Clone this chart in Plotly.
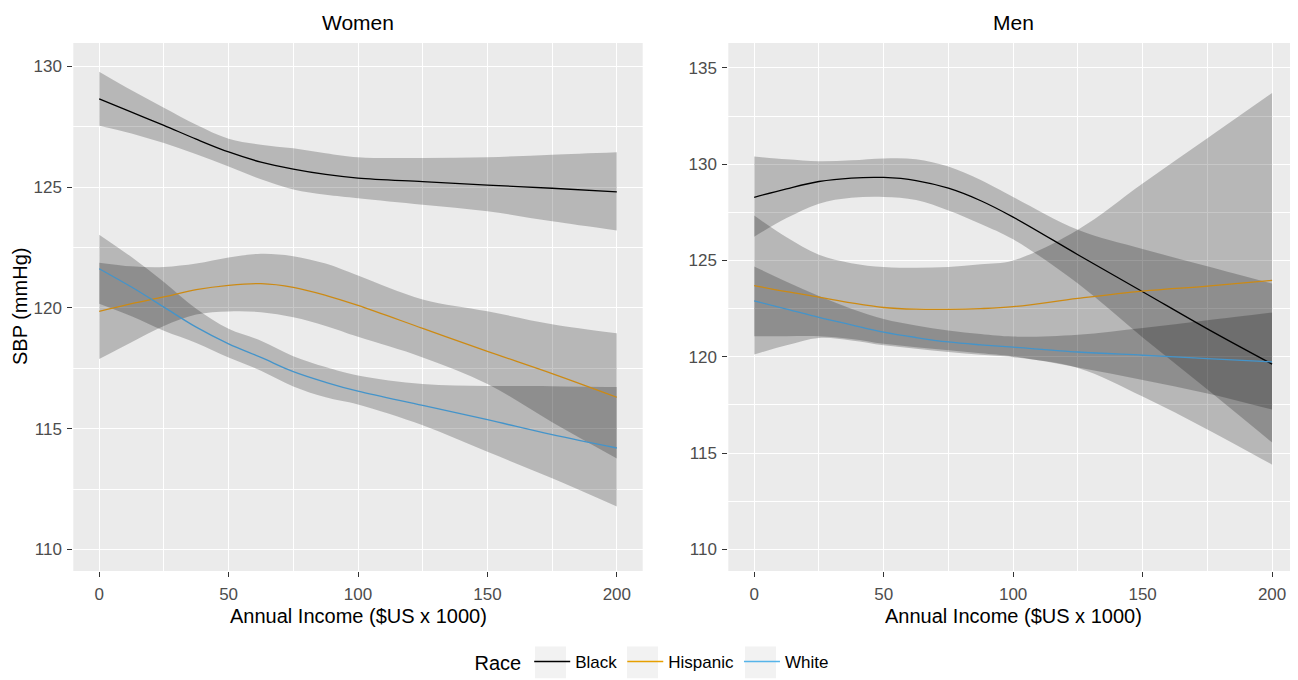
import plotly.graph_objects as go

# ---------------- data ----------------
income = [0, 12.5, 25, 37.5, 50, 62.5, 75, 87.5, 100, 125, 150, 175, 200]
races = ["Black", "Hispanic", "White"]
legend_colors = ["#000000", "#E69F00", "#56B4E9"]
line_colors = ["#000000", "#CC8A14", "#4494CA"]
panels = ["Women", "Men"]
x_ticks = [0, 50, 100, 150, 200]
women_y_ticks = [110, 115, 120, 125, 130]
men_y_ticks = [110, 115, 120, 125, 130, 135]

# Women
women_black_fit = [128.65, 128.10, 127.55, 126.98, 126.45, 126.03, 125.74, 125.52, 125.37, 125.22, 125.08, 124.95, 124.80]
women_black_hi = [129.77, 129.00, 128.28, 127.58, 127.00, 126.75, 126.60, 126.40, 126.23, 126.20, 126.23, 126.34, 126.44]
women_black_lo = [127.54, 127.22, 126.82, 126.36, 125.85, 125.32, 124.90, 124.68, 124.54, 124.27, 124.00, 123.58, 123.20]

women_hisp_fit = [119.85, 120.17, 120.45, 120.75, 120.93, 121.00, 120.85, 120.52, 120.10, 119.15, 118.20, 117.28, 116.30]
women_hisp_hi = [121.87, 121.72, 121.69, 121.83, 122.08, 122.24, 122.14, 121.83, 121.34, 120.35, 119.86, 119.32, 118.95]
women_hisp_lo = [117.88, 118.58, 119.25, 119.72, 119.85, 119.82, 119.61, 119.25, 118.80, 117.95, 116.85, 115.27, 113.77]

women_white_fit = [121.62, 120.86, 120.03, 119.20, 118.51, 117.95, 117.36, 116.92, 116.55, 115.96, 115.37, 114.75, 114.20]
women_white_hi = [123.03, 122.10, 121.07, 119.96, 119.13, 118.64, 118.00, 117.55, 117.20, 116.85, 116.77, 116.76, 116.72]
women_white_lo = [120.17, 119.65, 119.05, 118.55, 117.95, 117.40, 116.75, 116.30, 116.00, 115.14, 114.04, 112.95, 111.78]

# Men
men_black_fit = [128.28, 128.72, 129.10, 129.28, 129.31, 129.15, 128.75, 128.10, 127.25, 125.30, 123.38, 121.45, 119.62]
men_black_hi = [130.40, 130.25, 130.15, 130.20, 130.30, 130.26, 129.88, 129.18, 128.30, 126.60, 125.60, 124.70, 123.80]
men_black_lo = [126.23, 127.20, 127.95, 128.25, 128.30, 128.14, 127.60, 126.90, 126.10, 123.80, 121.00, 118.30, 115.55]

men_hisp_fit = [123.70, 123.38, 123.10, 122.80, 122.56, 122.47, 122.46, 122.50, 122.60, 123.03, 123.41, 123.67, 123.97]
men_hisp_hi = [127.33, 126.20, 125.30, 124.86, 124.66, 124.62, 124.66, 124.80, 125.00, 126.60, 129.00, 131.35, 133.70]
men_hisp_lo = [120.12, 120.60, 120.98, 120.85, 120.60, 120.42, 120.25, 120.10, 119.98, 119.42, 117.94, 116.23, 114.40]

men_white_fit = [122.90, 122.48, 122.05, 121.66, 121.28, 121.00, 120.77, 120.62, 120.50, 120.25, 120.08, 119.91, 119.74]
men_white_hi = [124.69, 123.90, 123.16, 122.50, 121.96, 121.62, 121.36, 121.18, 121.05, 121.15, 121.50, 121.90, 122.30]
men_white_lo = [121.07, 121.07, 121.07, 120.93, 120.68, 120.50, 120.34, 120.18, 120.02, 119.45, 118.80, 118.10, 117.26]

women = [(women_black_fit, women_black_lo, women_black_hi),
         (women_hisp_fit, women_hisp_lo, women_hisp_hi),
         (women_white_fit, women_white_lo, women_white_hi)]
men = [(men_black_fit, men_black_lo, men_black_hi),
       (men_hisp_fit, men_hisp_lo, men_hisp_hi),
       (men_white_fit, men_white_lo, men_white_hi)]

# ---------------- figure ----------------
FONT = "Liberation Sans, Arial, sans-serif"
RIBBON = "rgba(0,0,0,0.22)"

fig = go.Figure()

for p, (panel_data, xa, ya) in enumerate([(women, "x", "y"), (men, "x2", "y2")]):
    for (fit, lo, hi) in panel_data:
        fig.add_trace(go.Scatter(x=income, y=lo, mode="lines", xaxis=xa, yaxis=ya,
                                 line=dict(width=0, shape="spline"), showlegend=False,
                                 hoverinfo="skip"))
        fig.add_trace(go.Scatter(x=income, y=hi, mode="lines", xaxis=xa, yaxis=ya,
                                 line=dict(width=0, shape="spline"), fill="tonexty",
                                 fillcolor=RIBBON, showlegend=False, hoverinfo="skip"))
    for i, (fit, lo, hi) in enumerate(panel_data):
        fig.add_trace(go.Scatter(x=income, y=fit, mode="lines", xaxis=xa, yaxis=ya,
                                 name=races[i], legendgroup=races[i], showlegend=False,
                                 line=dict(color=line_colors[i], width=1.3, shape="spline")))

# legend entries (legend-only keys in the legend colours)
for i, r in enumerate(races):
    fig.add_trace(go.Scatter(x=[None], y=[None], mode="lines", name=r, legendgroup=r,
                             xaxis="x", yaxis="y", showlegend=True,
                             line=dict(color=legend_colors[i], width=1.5)))

# The page body has an 8px default margin, so the figure is 8px smaller and
# all reference pixel positions are shifted by that offset.
OFF = 8
W, H = 1298 - OFF, 680 - OFF
top, bottom = 43.3 - OFF, 573.3 - OFF
plot_h = bottom - top


def xp(px):
    return (px - OFF) / W


def yp(py):
    return (bottom - (py - OFF)) / plot_h


left_dom = [xp(73.3), xp(642.7)]
right_dom = [xp(728.3), 1.0]

axis_common = dict(
    showgrid=True, gridcolor="white", gridwidth=1.1,
    zeroline=False, showline=False,
    ticks="outside", ticklen=5, tickwidth=1.1, tickcolor="#333333",
    tickfont=dict(family=FONT, size=17, color="#4D4D4D"),
    automargin=False,
)
xminor = dict(dtick=25, tick0=0, showgrid=True, gridcolor="white", gridwidth=0.5)
yminor = dict(dtick=2.5, tick0=110, showgrid=True, gridcolor="white", gridwidth=0.5)

fig.update_layout(
    width=W, height=H,
    margin=dict(l=0, r=0, t=top, b=H - bottom, pad=0),
    paper_bgcolor="white", plot_bgcolor="#EBEBEB",
    font=dict(family=FONT, color="#000000"),
    xaxis=dict(domain=left_dom, range=[-10, 210], tickvals=x_ticks, minor=xminor,
               anchor="y", ticklabelstandoff=3, **axis_common),
    yaxis=dict(domain=[0, 1], range=[109.11, 130.96], tickvals=women_y_ticks, minor=yminor,
               anchor="x", ticklabelstandoff=2, **axis_common),
    xaxis2=dict(domain=right_dom, range=[-10, 210], tickvals=x_ticks, minor=xminor,
                anchor="y2", ticklabelstandoff=3, **axis_common),
    yaxis2=dict(domain=[0, 1], range=[108.88, 136.29], tickvals=men_y_ticks, minor=yminor,
                anchor="x2", ticklabelstandoff=2, **axis_common),
    legend=dict(orientation="h", x=0.5, xanchor="center",
                y=yp(665), yanchor="middle",
                title=dict(text="Race", font=dict(family=FONT, size=20, color="#000000")),
                font=dict(family=FONT, size=17, color="#000000"),
                bgcolor="rgba(0,0,0,0)", itemwidth=36),
    showlegend=True,
)

annotations = []
for name, dom in zip(panels, [left_dom, right_dom]):
    cx = (dom[0] + dom[1]) / 2
    annotations.append(dict(text=name, x=cx, y=yp(22.5), xref="paper", yref="paper",
                            xanchor="center", yanchor="middle", showarrow=False,
                            font=dict(family=FONT, size=21, color="#000000")))
    annotations.append(dict(text="Annual Income ($US x 1000)", x=cx, y=yp(618.5),
                            xref="paper", yref="paper", xanchor="center", yanchor="middle",
                            showarrow=False, font=dict(family=FONT, size=20, color="#000000")))
annotations.append(dict(text="SBP (mmHg)", x=xp(20), y=0.5, xref="paper", yref="paper",
                        xanchor="center", yanchor="middle", textangle=-90, showarrow=False,
                        font=dict(family=FONT, size=20, color="#000000")))
fig.update_layout(annotations=annotations)

# grey legend-key backgrounds (ggplot style)
shapes = []
for x0, x1 in [(535, 566), (627, 658), (745, 776)]:
    shapes.append(dict(type="rect", xref="paper", yref="paper",
                       x0=xp(x0), x1=xp(x1), y0=yp(649), y1=yp(681),
                       fillcolor="#F2F2F2", line=dict(width=0), layer="below"))
fig.update_layout(shapes=shapes)

fig.write_html("out.html")
